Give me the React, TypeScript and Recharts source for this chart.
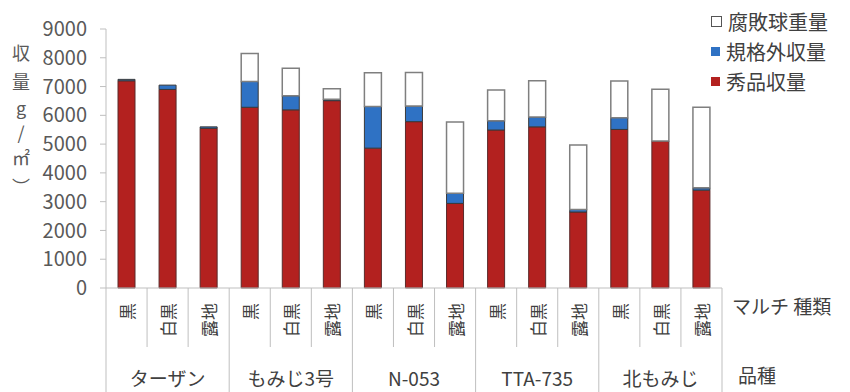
import React from "react";
import { BarChart, Bar, XAxis, YAxis } from "recharts";

// 品種 × マルチ種類 ごとの収量 (g/㎡)
const hinshu = ["ターザン", "もみじ3号", "N-053", "TTA-735", "北もみじ"];
const mulch = ["黒", "白黒", "露地"];

const shuhin = [7200, 6900, 5550, 6280, 6190, 6510, 4860, 5780, 2940, 5490, 5600, 2640, 5510, 5110, 3400];
const kikakugai = [50, 150, 50, 900, 490, 50, 1450, 540, 350, 320, 340, 90, 410, 0, 80];
const fuhai = [0, 0, 0, 970, 960, 360, 1170, 1170, 2480, 1070, 1260, 2240, 1270, 1800, 2800];

const yTicks = [0, 1000, 2000, 3000, 4000, 5000, 6000, 7000, 8000, 9000];

const RED = "#B3211F";
const BLUE = "#2F72C4";
const GRAY = "#595959";
const LINE = "#bfbfbf";
const FONT = "'Noto Sans CJK JP', 'Noto Sans', sans-serif";

const data = hinshu.flatMap((h, gi) =>
  mulch.map((m, mi) => {
    const i = gi * 3 + mi;
    return { key: `${h}-${m}`, hinshu: h, mulch: m, shuhin: shuhin[i], kikakugai: kikakugai[i], fuhai: fuhai[i] };
  })
);

const legendItems = [
  { name: "腐敗球重量", color: "#ffffff" },
  { name: "規格外収量", color: BLUE },
  { name: "秀品収量", color: RED },
];

function CategoryTick(props: any) {
  const { x, y, payload, width } = props;
  const index = payload.index ?? props.index;
  const row = data[index];
  const band = (width || 616) / data.length;
  const left = x - band / 2;
  const right = x + band / 2;
  const groupEnd = index % 3 === 2;
  return (
    <g>
      {index === 0 && <line x1={left} y1={y} x2={left} y2={y + 104} stroke={LINE} />}
      <line x1={right} y1={y} x2={right} y2={groupEnd ? y + 104 : y + 59} stroke={LINE} />
      <text
        transform={`translate(${x},${y + 15}) rotate(-90)`}
        textAnchor="end"
        dominantBaseline="central"
        fontSize={17}
        fill="#404040"
        fontFamily={FONT}
      >
        {row.mulch}
      </text>
      {index % 3 === 1 && (
        <text x={x} y={y + 89} textAnchor="middle" dominantBaseline="central" fontSize={19} fill="#404040" fontFamily={FONT}>
          {row.hinshu}
        </text>
      )}
    </g>
  );
}

// 縦書きの軸タイトル: 収量 g/㎡ と縦書き用の閉じ括弧
function YLabel() {
  const chars: [string, number][] = [
    ["収", 52],
    ["量", 81],
    ["g", 107],
    ["/", 132],
    ["㎡", 157],
  ];
  return (
    <g fill={GRAY} fontFamily={FONT}>
      <text textAnchor="middle" dominantBaseline="central" fontSize={18}>
        {chars.map(([c, cy]) => (
          <tspan key={c} x={21} y={cy}>
            {c}
          </tspan>
        ))}
      </text>
      <text x={21} y={186} textAnchor="middle" dominantBaseline="central" fontSize={18}>
        ︶
      </text>
    </g>
  );
}

export default function App() {
  return (
    <div style={{ position: "absolute", left: 0, top: 0, width: 850, height: 392, background: "#fff", fontFamily: FONT }}>
      <BarChart width={850} height={392} data={data} margin={{ top: 29, right: 128, bottom: 0, left: 0 }}>
        <XAxis
          dataKey="key"
          height={104}
          interval={0}
          tickSize={0}
          tickMargin={0}
          tickLine={false}
          axisLine={{ stroke: LINE }}
          tick={<CategoryTick />}
        />
        <YAxis
          width={106}
          domain={[0, 9000]}
          ticks={yTicks}
          interval={0}
          tickSize={6}
          tickMargin={13}
          axisLine={{ stroke: LINE }}
          tickLine={{ stroke: LINE }}
          tick={{ fontSize: 20, fill: GRAY, fontFamily: FONT }}
          label={<YLabel />}
        />
        <Bar dataKey="shuhin" stackId="a" fill={RED} stroke="#5a2a2a" strokeWidth={1} barSize={17} isAnimationActive={false} />
        <Bar dataKey="kikakugai" stackId="a" fill={BLUE} stroke="#3a3a3a" strokeWidth={1} barSize={17} isAnimationActive={false} />
        <Bar dataKey="fuhai" stackId="a" fill="#ffffff" stroke="#7f7f7f" strokeWidth={1.5} barSize={17} isAnimationActive={false} />
      </BarChart>

      <div style={{ position: "absolute", left: 711, top: 6 }}>
        {legendItems.map((it) => (
          <div key={it.name} style={{ display: "flex", alignItems: "center", height: 30, fontSize: 20, color: "#404040" }}>
            <span
              style={{
                display: "inline-block",
                width: 9,
                height: 9,
                background: it.color,
                border: it.color === "#ffffff" ? "1px solid #555" : "none",
                marginRight: 6,
              }}
            />
            {it.name}
          </div>
        ))}
      </div>

      <div style={{ position: "absolute", left: 732, top: 292, fontSize: 19, color: "#404040", whiteSpace: "nowrap" }}>
        マルチ 種類
      </div>
      <div style={{ position: "absolute", left: 738, top: 361, fontSize: 19, color: "#404040", whiteSpace: "nowrap" }}>
        品種
      </div>
    </div>
  );
}
